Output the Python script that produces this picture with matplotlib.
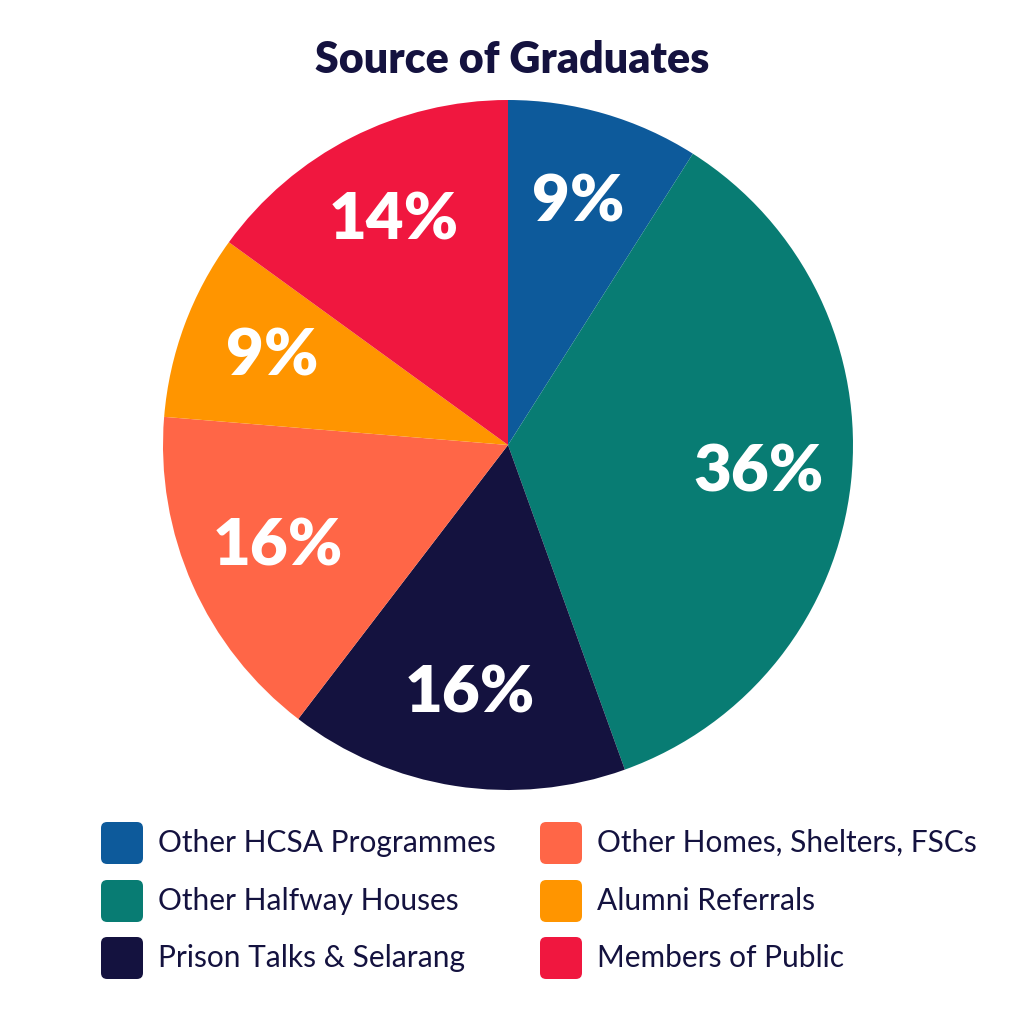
import matplotlib.pyplot as plt
from matplotlib.patches import FancyBboxPatch

# --- Data ---
labels = ["Other HCSA Programmes", "Other Halfway Houses", "Prison Talks & Selarang",
          "Other Homes, Shelters, FSCs", "Alumni Referrals", "Members of Public"]
# wedge sizes; printed labels as shown on the chart
shares = [9.0, 35.5, 15.9, 15.9, 8.7, 15.0]
pct_text = ["9%", "36%", "16%", "16%", "9%", "14%"]
colors = ["#0D5A9B", "#087C73", "#14123F", "#FF6647", "#FF9500", "#F0173F"]

TITLE = "Source of Graduates"
DARK = "#14123F"

plt.rcParams['font.family'] = ['Lato', 'DejaVu Sans']

fig = plt.figure(figsize=(10.24, 10.24), dpi=100)
fig.patch.set_facecolor("white")

# pie axes: centre ~ (508, 445) px, radius ~345 px
cx, cy, r = 508 / 1024, 1 - 445 / 1024, 345 / 1024
ax = fig.add_axes([cx - r, cy - r, 2 * r, 2 * r])
wedges, texts = ax.pie(shares, colors=colors, startangle=90, counterclock=False,
                       labels=pct_text, labeldistance=0.73,
                       wedgeprops=dict(linewidth=0))
for t in texts:
    t.set_color("white")
    t.set_fontsize(47)
    t.set_fontweight("heavy")
    t.set_ha("center")
    t.set_va("center")
ax.set_xlim(-1, 1)
ax.set_ylim(-1, 1)
ax.set_aspect("equal")
ax.axis("off")

fig.text(0.5, 1 - 60 / 1024, TITLE, ha="center", va="center",
         fontsize=31, fontweight="heavy", color=DARK)

# legend, drawn by hand: two columns of three rows
col_x = [101 / 1024, 540 / 1024]
row_y = [1 - 843 / 1024, 1 - 901 / 1024, 1 - 958 / 1024]
box = 42 / 1024
for i, (lab, col) in enumerate(zip(labels, colors)):
    x = col_x[i // 3]
    y = row_y[i % 3]
    fig.patches.append(FancyBboxPatch((x, y - box / 2), box, box,
                                      boxstyle="round,pad=0,rounding_size=0.006",
                                      transform=fig.transFigure, facecolor=col,
                                      edgecolor="none"))
    fig.text(x + 57 / 1024, y, lab, ha="left", va="center",
             fontsize=21.5, color=DARK)

fig.savefig("out.png", dpi=100, facecolor="white")
